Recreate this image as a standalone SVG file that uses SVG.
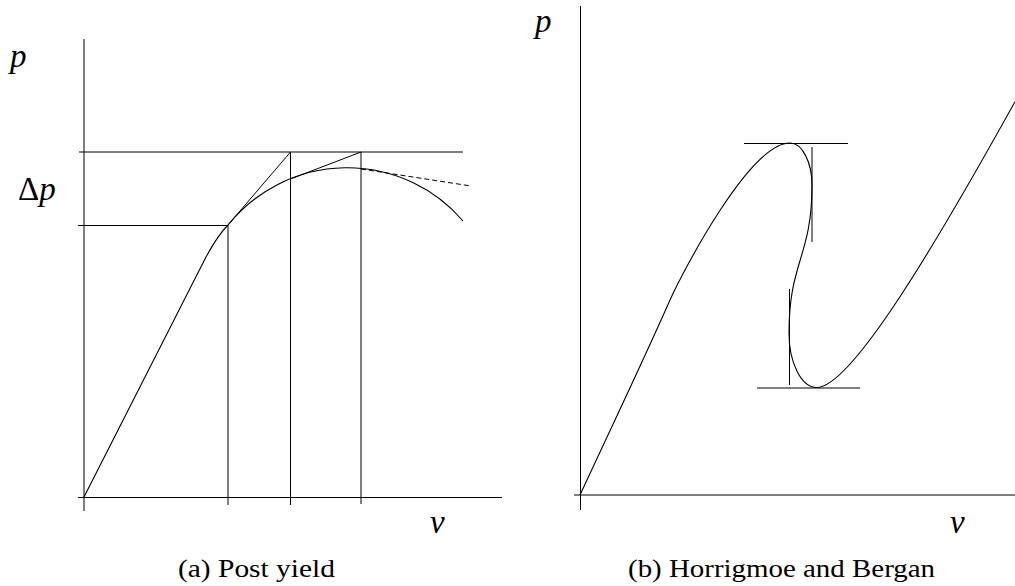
<svg xmlns="http://www.w3.org/2000/svg" width="1015" height="586" viewBox="0 0 1015 586">
<style>
  .ln { stroke:#000; stroke-width:1; fill:none; }
  .cv { stroke:#000; stroke-width:1.1; fill:none; }
  .dash { stroke:#000; stroke-width:1; fill:none; stroke-dasharray:5 3; }
</style>
<rect width="1015" height="586" fill="#fff"/>
<g id="panel-a">
  <g id="axes-a">
    <line class="ln" x1="84" y1="39" x2="84" y2="511"/>
    <line class="ln" x1="78" y1="497.5" x2="502" y2="497.5"/>
  </g>
  <g id="guides-a">
    <line class="ln" x1="79" y1="152" x2="463" y2="152"/>
    <line class="ln" x1="78" y1="225.5" x2="228" y2="225.5"/>
    <line class="ln" x1="228" y1="225" x2="228" y2="505"/>
    <line class="ln" x1="290.5" y1="152" x2="290.5" y2="505"/>
    <line class="ln" x1="361" y1="152" x2="361" y2="504"/>
  </g>
  <g id="curve-a">
    <path class="cv" d="M84,497 L206,257 C213,244 220,233 228,225 A152.7,152.7 0 0 1 463,221"/>
    <line class="ln" x1="228" y1="225" x2="290.5" y2="152"/>
    <line class="ln" x1="290.5" y1="179" x2="361" y2="152"/>
    <line class="dash" x1="361" y1="169" x2="471" y2="186"/>
  </g>
  <g id="labels-a">
    <text x="10" y="66.5" font-family="Liberation Serif" font-size="33" font-style="italic">p</text>
    <text x="18" y="200" font-family="Liberation Serif" font-size="33">Δ<tspan font-style="italic">p</tspan></text>
    <text x="430" y="533" font-family="Liberation Serif" font-size="33" font-style="italic">v</text>
    <text x="178" y="577" font-family="Liberation Serif" font-size="25" textLength="157" lengthAdjust="spacingAndGlyphs">(a) Post yield</text>
  </g>
</g>
<g id="panel-b">
  <g id="axes-b">
    <line class="ln" x1="580.5" y1="6" x2="580.5" y2="510"/>
    <line class="ln" x1="574" y1="495" x2="1015" y2="495"/>
  </g>
  <g id="tangents-b">
    <line class="ln" x1="744" y1="143.5" x2="848" y2="143.5"/>
    <line class="ln" x1="812" y1="147" x2="812" y2="242"/>
    <line class="ln" x1="757" y1="388" x2="860" y2="388"/>
    <line class="ln" x1="789.5" y1="289" x2="789.5" y2="385"/>
  </g>
  <g id="curve-b">
    <path class="cv" d="M580,495 C610,430 640,368 670,300 C684,269.5 750,143 790,143 C802,143 812,162 812,185 C812,257 789,261 789,333 C789,363 801.5,387.5 816.7,387.5 C852,387.5 940,236.7 1015,101.7"/>
  </g>
  <g id="labels-b">
    <text x="535" y="31.7" font-family="Liberation Serif" font-size="33" font-style="italic">p</text>
    <text x="950" y="533" font-family="Liberation Serif" font-size="33" font-style="italic">v</text>
    <text x="628" y="577" font-family="Liberation Serif" font-size="25" textLength="307" lengthAdjust="spacingAndGlyphs">(b) Horrigmoe and Bergan</text>
  </g>
</g>
</svg>
